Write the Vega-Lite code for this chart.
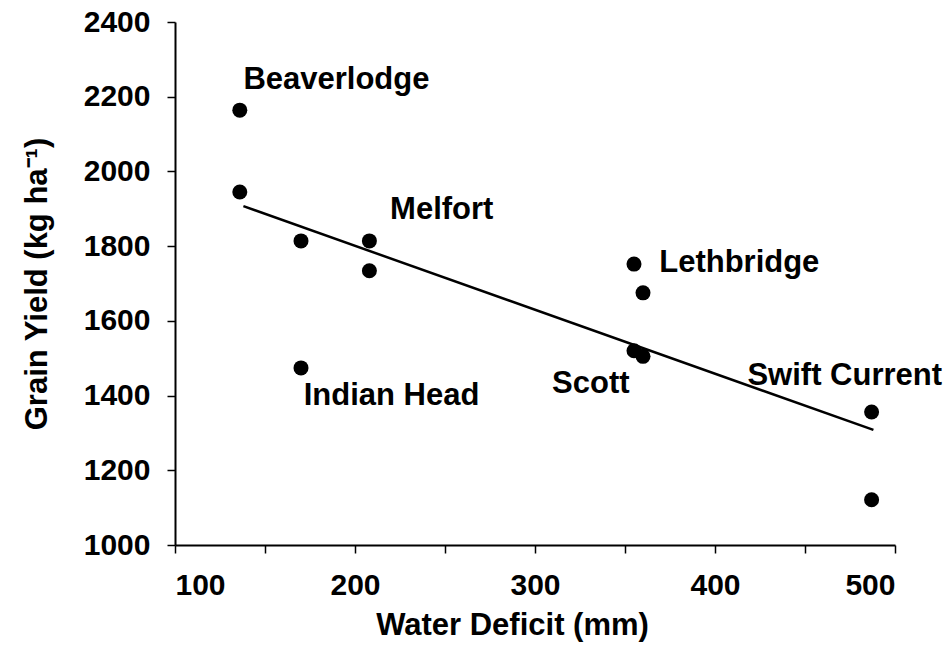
{
  "$schema": "https://vega.github.io/schema/vega-lite/v6.json",
  "width": 720,
  "height": 523,
  "autosize": {"type": "none"},
  "padding": {"left": 175, "top": 22, "right": 55, "bottom": 101},
  "background": "white",
  "config": {
    "view": {"stroke": null},
    "font": "Liberation Sans",
    "axis": {
      "domainColor": "black",
      "domainWidth": 2,
      "tickColor": "black",
      "tickWidth": 1.5,
      "tickSize": 8,
      "grid": false,
      "format": "d",
      "labelFont": "Liberation Sans",
      "labelFontSize": 30,
      "labelFontWeight": "bold",
      "labelColor": "black",
      "titleFont": "Liberation Sans",
      "titleFontSize": 31,
      "titleFontWeight": "bold",
      "titleColor": "black"
    }
  },
  "datasets": {
    "points": [
      {"deficit": 136, "yield": 2164},
      {"deficit": 136, "yield": 1945},
      {"deficit": 170, "yield": 1814},
      {"deficit": 208, "yield": 1814},
      {"deficit": 208, "yield": 1734},
      {"deficit": 170, "yield": 1474},
      {"deficit": 355, "yield": 1752},
      {"deficit": 360, "yield": 1675},
      {"deficit": 355, "yield": 1520},
      {"deficit": 360, "yield": 1505},
      {"deficit": 487, "yield": 1356},
      {"deficit": 487, "yield": 1121}
    ],
    "trend": [
      {"deficit": 138, "yield": 1907},
      {"deficit": 488, "yield": 1308}
    ],
    "labels": [
      {"deficit": 138, "yield": 2245, "site": "Beaverlodge"},
      {"deficit": 219.5, "yield": 1897, "site": "Melfort"},
      {"deficit": 369, "yield": 1755, "site": "Lethbridge"},
      {"deficit": 171.5, "yield": 1399, "site": "Indian Head"},
      {"deficit": 309.5, "yield": 1431, "site": "Scott"},
      {"deficit": 418, "yield": 1453, "site": "Swift Current"}
    ]
  },
  "layer": [
    {
      "data": {"name": "trend"},
      "mark": {"type": "line", "color": "black", "strokeWidth": 2.5},
      "encoding": {
        "x": {"field": "deficit", "type": "quantitative", "scale": {"domain": [100, 500], "nice": false},
          "axis": {"title": "Water Deficit (mm)", "values": [100, 150, 200, 250, 300, 350, 400, 450, 500], "labelExpr": "datum.value % 100 == 0 ? datum.label : ''", "labelPadding": 17, "titlePadding": 10, "titleX": 337}},
        "y": {"field": "yield", "type": "quantitative", "scale": {"domain": [1000, 2400], "nice": false, "zero": false},
          "axis": {"title": "Grain Yield (kg ha⁻¹)", "values": [1000, 1200, 1400, 1600, 1800, 2000, 2200, 2400], "labelPadding": 17, "titlePadding": 30}}
      }
    },
    {
      "data": {"name": "points"},
      "mark": {"type": "circle", "color": "black", "opacity": 1, "size": 225},
      "encoding": {
        "x": {"field": "deficit", "type": "quantitative"},
        "y": {"field": "yield", "type": "quantitative"}
      }
    },
    {
      "data": {"name": "labels"},
      "mark": {"type": "text", "align": "left", "baseline": "middle", "fontSize": 31, "fontWeight": "bold", "color": "black", "font": "Liberation Sans"},
      "encoding": {
        "x": {"field": "deficit", "type": "quantitative"},
        "y": {"field": "yield", "type": "quantitative"},
        "text": {"field": "site"}
      }
    }
  ]
}
